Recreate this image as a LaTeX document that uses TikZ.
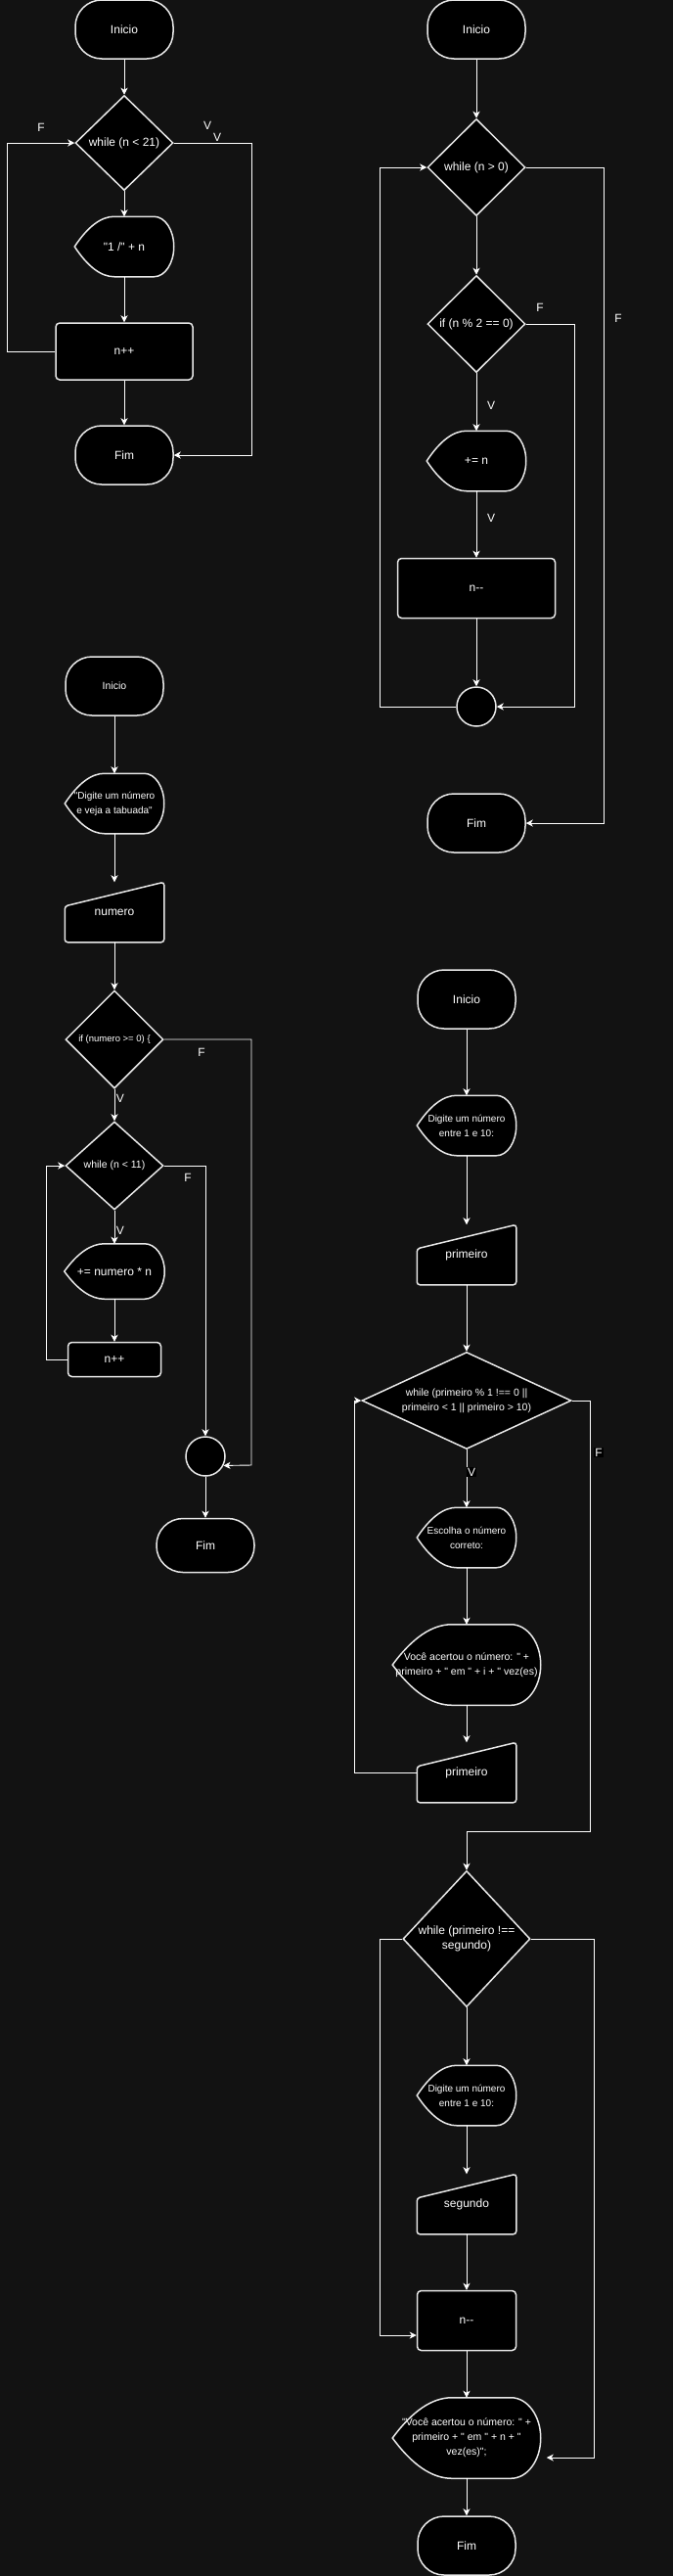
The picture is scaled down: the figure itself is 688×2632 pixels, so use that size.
\documentclass[tikz,border=0pt]{standalone}
\usepackage{fontspec}
\setmainfont{Liberation Sans}[Ligatures=TeXOff]
\usetikzlibrary{shapes.geometric,arrows.meta}
\definecolor{bgdark}{HTML}{121212}
\definecolor{lineclr}{HTML}{E8E8E8}

\newdimen\shpx \newdimen\shpy \newdimen\shpw \newdimen\shph
\newdimen\shpa \newdimen\shpb
\makeatletter
\def\shpgrab{\southwest \shpx=\pgf@x \shpy=\pgf@y
  \northeast \shpw=\pgf@x \advance\shpw by-\shpx
  \shph=\pgf@y \advance\shph by-\shpy}
\pgfdeclareshape{display}{
  \inheritsavedanchors[from=rectangle]
  \inheritanchorborder[from=rectangle]
  \inheritanchor[from=rectangle]{center}
  \inheritanchor[from=rectangle]{text}
  \inheritanchor[from=rectangle]{base}
  \inheritanchor[from=rectangle]{mid}
  \inheritanchor[from=rectangle]{north}
  \inheritanchor[from=rectangle]{south}
  \inheritanchor[from=rectangle]{east}
  \inheritanchor[from=rectangle]{west}
  \inheritanchor[from=rectangle]{north east}
  \inheritanchor[from=rectangle]{north west}
  \inheritanchor[from=rectangle]{south east}
  \inheritanchor[from=rectangle]{south west}
  \backgroundpath{%
    \shpgrab
    \shpa=0.2\shpw \shpb=0.5\shph
    \pgfpathmoveto{\pgfqpoint{\shpx}{\dimexpr\shpy+\shpb\relax}}%
    \pgfpathquadraticcurveto{\pgfqpoint{\dimexpr\shpx+\shpa\relax}{\dimexpr\shpy+\shph\relax}}{\pgfqpoint{\dimexpr\shpx+2\shpa\relax}{\dimexpr\shpy+\shph\relax}}%
    \pgfpathlineto{\pgfqpoint{\dimexpr\shpx+4\shpa\relax}{\dimexpr\shpy+\shph\relax}}%
    \pgfpatharc{90}{-90}{\shpa and \shpb}%
    \pgfpathlineto{\pgfqpoint{\dimexpr\shpx+2\shpa\relax}{\shpy}}%
    \pgfpathquadraticcurveto{\pgfqpoint{\dimexpr\shpx+\shpa\relax}{\shpy}}{\pgfqpoint{\shpx}{\dimexpr\shpy+\shpb\relax}}%
    \pgfpathclose
  }
}
\pgfdeclareshape{manualin}{
  \inheritsavedanchors[from=rectangle]
  \inheritanchorborder[from=rectangle]
  \inheritanchor[from=rectangle]{center}
  \inheritanchor[from=rectangle]{text}
  \inheritanchor[from=rectangle]{base}
  \inheritanchor[from=rectangle]{mid}
  \inheritanchor[from=rectangle]{north}
  \inheritanchor[from=rectangle]{south}
  \inheritanchor[from=rectangle]{east}
  \inheritanchor[from=rectangle]{west}
  \inheritanchor[from=rectangle]{north east}
  \inheritanchor[from=rectangle]{north west}
  \inheritanchor[from=rectangle]{south east}
  \inheritanchor[from=rectangle]{south west}
  \backgroundpath{%
    \shpgrab
    \pgfpathmoveto{\pgfqpoint{\dimexpr\shpx+0.5\shpw\relax}{\shpy}}%
    \pgfpathlineto{\pgfqpoint{\shpx}{\shpy}}%
    \pgfpathlineto{\pgfqpoint{\shpx}{\dimexpr\shpy+0.6\shph\relax}}%
    \pgfpathlineto{\pgfqpoint{\dimexpr\shpx+\shpw\relax}{\dimexpr\shpy+\shph\relax}}%
    \pgfpathlineto{\pgfqpoint{\dimexpr\shpx+\shpw\relax}{\shpy}}%
    \pgfpathclose
  }
}
\makeatother

\tikzset{
  blk/.style={draw=lineclr, line width=1.5pt, fill=black, text=white,
    font=\fontsize{12}{15}\selectfont, inner sep=0pt, align=center},
  term/.style={blk, rectangle, rounded corners=27pt, minimum width=100pt, minimum height=60pt},
  proc/.style={blk, rectangle, rounded corners=4pt, minimum width=100pt, minimum height=60pt},
  disp/.style={blk, shape=display, minimum width=100pt, minimum height=60pt},
  inp/.style={blk, shape=manualin, rounded corners=3pt, minimum width=100pt, minimum height=60pt},
  dec/.style={blk, diamond, minimum width=100pt, minimum height=99pt},
  knot/.style={blk, circle, minimum size=40pt},
  flow/.style={draw=white, line width=0.9pt, -{Stealth[length=7pt,width=7pt,inset=2pt]}},
  lbl/.style={text=white, font=\fontsize{12}{14}\selectfont, inner sep=1pt},
  smallfont/.style={font=\fontsize{10}{15}\selectfont},
  midfont/.style={font=\fontsize{10.5}{15}\selectfont},
}

\begin{document}
\begin{tikzpicture}[x=1pt,y=-1pt]
      \path[use as bounding box, fill=bgdark] (0,0) rectangle (688,2632);

      \node[term] (ini1) at (127,30) {Inicio};
      \node[dec, minimum height=97pt] (w1) at (127,146) {while (n < 21)};
      \node[disp] (out1) at (127,252) {"1 /" + n};
      \node[proc, minimum width=140pt, minimum height=58pt] (pp1) at (127,359) {n++};
      \node[term] (fim1) at (127,465) {Fim};
      \draw[flow] (ini1) to (w1);
      \draw[flow] (w1) to (out1);
      \draw[flow] (out1) to (pp1);
      \draw[flow] (pp1) to (fim1);
      \draw[flow] (pp1.west) -- (7,359) -- (7,146) -- (w1.west);
      \draw[flow] (w1.east) -- (257,146) -- (257,465) -- (fim1.east);
      \node[lbl] (f1) at (42,130) {F};
      \node[lbl] (v1) at (212,128) {V};
      \node[lbl] (v1b) at (222,140) {V};

      \node[term] (ini2) at (487,30) {Inicio};
      \node[dec] (w2) at (487,171) {while (n > 0)};
      \node[dec] (if2) at (487,331) {if (n \% 2 == 0)};
      \node[disp] (out2) at (487,471) {+= n};
      \node[proc, minimum width=161pt, minimum height=61pt] (mm2) at (487,601) {n--};
      \node[knot] (knot2) at (487,722) {};
      \node[term] (fim2) at (487,841) {Fim};
      \draw[flow] (ini2) to (w2);
      \draw[flow] (w2) to (if2);
      \draw[flow] (if2) to (out2);
      \draw[flow] (out2) to (mm2);
      \draw[flow] (mm2) to (knot2);
      \draw[flow] (knot2.west) -- (388,722) -- (388,171) -- (w2.west);
      \draw[flow] (w2.east) -- (617,171) -- (617,841) -- (fim2.east);
      \draw[flow] (if2.east) -- (587,331) -- (587,722) -- (knot2.east);
      \node[lbl] (f2) at (632,325) {F};
      \node[lbl] (f2b) at (552,314) {F};
      \node[lbl] (v2) at (502,414) {V};
      \node[lbl] (v2b) at (502,529) {V};

      \node[term, midfont] (ini3) at (117,701) {Inicio};
      \node[disp, smallfont] (out3) at (117,821) {"Digite um número\\e veja a tabuada"};
      \node[inp] (in3) at (117,932) {numero};
      \node[dec, minimum height=100pt, font=\fontsize{9.5}{12}\selectfont] (if3) at (117,1062) {if (numero >= 0) \{};
      \node[dec, minimum height=90pt, midfont] (w3) at (117,1191) {while (n < 11)};
      \node[disp, minimum width=101pt, minimum height=55pt] (out3b) at (117,1299) {+= numero * n};
      \node[proc, minimum width=95pt, minimum height=35pt] (pp3) at (117,1389) {n++};
      \node[knot] (knot3) at (210,1488) {};
      \node[term, minimum height=55pt] (fim3) at (210,1579) {Fim};
      \draw[flow] (ini3) to (out3);
      \draw[flow] (out3) to (in3);
      \draw[flow] (in3) to (if3);
      \draw[flow] (if3) to (w3);
      \draw[flow] (w3) to (out3b);
      \draw[flow] (out3b) to (pp3);
      \draw[flow] (pp3.west) -- (47,1389) -- (47,1191) -- (w3.west);
      \draw[flow] (w3.east) -| (knot3.north);
      \draw[flow] (if3.east) -- (257,1062) -- (257,1497) -- (knot3.-27);
      \draw[flow] (knot3) to (fim3);
      \node[lbl] (f3) at (206,1075) {F};
      \node[lbl] (v3) at (123,1122) {V};
      \node[lbl] (f3b) at (192,1203) {F};
      \node[lbl] (v3b) at (123,1257) {V};

      \node[term] (ini4) at (477,1021) {Inicio};
      \node[disp, smallfont] (out4) at (477,1150) {Digite um número\\entre 1 e 10:};
      \node[inp] (in4) at (477,1282) {primeiro};
      \node[dec, minimum width=214pt, aspect=2.16, midfont] (w4) at (477,1431) {while (primeiro \% 1 !== 0 ||\\primeiro < 1 || primeiro > 10)};
      \node[disp, smallfont] (out4b) at (477,1571) {Escolha o número\\correto:};
      \node[disp, minimum width=150pt, minimum height=81pt, midfont] (out4c) at (477,1701) {Você acertou o número: " +\\primeiro + " em " + i + " vez(es)};
      \node[inp] (in4b) at (477,1811) {primeiro};
      \node[dec, minimum width=130pt, minimum height=139pt, aspect=0.94] (w5) at (477,1981) {while (primeiro !==\\segundo)};
      \node[disp, smallfont] (out5) at (477,2141) {Digite um número\\entre 1 e 10:};
      \node[inp] (in5) at (477,2252) {segundo};
      \node[proc, minimum width=101pt, minimum height=61pt] (mm5) at (477,2371) {n--};
      \node[disp, minimum width=150pt, minimum height=81pt, midfont] (out5b) at (477,2491) {"Você acertou o número: " +\\primeiro + " em " + n + "\\vez(es)";};
      \node[term] (fim4) at (477,2601) {Fim};
      \draw[flow] (ini4) to (out4);
      \draw[flow] (out4) to (in4);
      \draw[flow] (in4) to (w4);
      \draw[flow] (w4) to (out4b);
      \draw[flow] (out4b) to (out4c);
      \draw[flow] (out4c) to (in4b);
      \draw[flow] (in4b.west) -- (362,1811) -- (362,1431) -- (w4.west);
      \draw[flow] (w4.east) -- (603,1431) -- (603,1871) -| (w5.north);
      \draw[flow] (w5) to (out5);
      \draw[flow] (out5) to (in5);
      \draw[flow] (in5) to (mm5);
      \draw[flow] (mm5) to (out5b);
      \draw[flow] (out5b) to (fim4);
      \draw[flow] (w5.west) -- (388,1981) -- (388,2386) -- ([yshift=-15pt]mm5.west);
      \draw[flow] (w5.east) -- (607,1981) -- (607,2511) -- ([xshift=6pt,yshift=-20pt]out5b.east);
      \node[lbl, fill=black] (f4) at (612,1484) {F};
      \node[lbl, fill=black] (v4) at (482,1504) {V};
    \end{tikzpicture}
\end{document}
